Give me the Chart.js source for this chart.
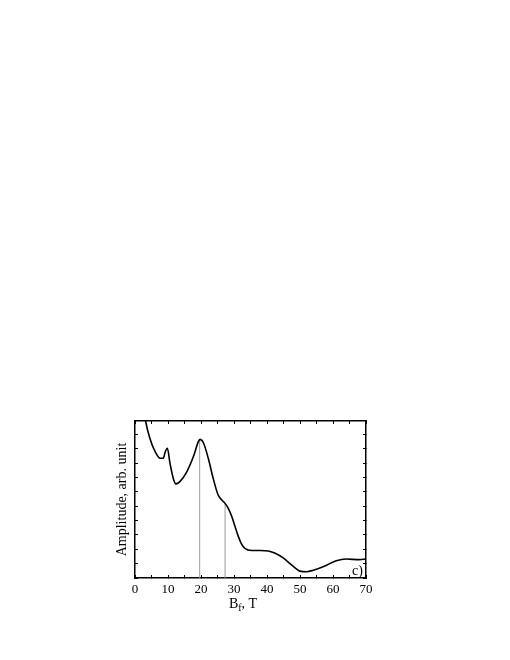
<!DOCTYPE html>
<html>
<head>
<meta charset="utf-8">
<script src="https://cdn.jsdelivr.net/npm/chart.js@4/dist/chart.umd.min.js"></script>
<style>
    html, body { margin: 0; padding: 0; background: #fff; }
    canvas { display: block; }
</style>
</head>
<body>
<canvas id="ampChart" width="510" height="660"></canvas>
<script>
// field values (T) and amplitude
const fieldValues = [2.8, 3.2, 4.5, 6.1, 7.6, 8.6, 9.1, 9.8, 10.6, 11.6, 12.4, 13.6, 15.7, 17.7, 19.2, 19.7,
    20.7, 22.2, 23.7, 25.2, 26.3, 27.3, 28.3, 29.3, 30.3, 31.3, 32.3, 33.3, 35.4, 38, 40.4, 42.5,
    45, 47.5, 50, 52, 54, 57, 61, 64, 68, 70];
const amplitudeValues = [5.75, 5.47, 4.87, 4.4, 4.17, 4.17, 4.37, 4.52, 4.0, 3.47, 3.28, 3.36, 3.7, 4.23, 4.75, 4.83,
    4.72, 4.17, 3.47, 2.89, 2.72, 2.6, 2.42, 2.15, 1.8, 1.45, 1.18, 1.03, 0.96, 0.96, 0.94, 0.86,
    0.69, 0.45, 0.24, 0.22, 0.27, 0.39, 0.6, 0.66, 0.64, 0.66];

// marker lines dropped from the curve to the axis
const markerFields = [19.6, 27.3];
const markerTops = [4.82, 2.6];

const xTickValues = [0, 10, 20, 30, 40, 50, 60, 70];
const xMin = 0, xMax = 70;
const yMin = 0, yMax = 5.47;
const panelLabel = 'c)';

const serif = 'Liberation Serif, Times New Roman, serif';

const datasets = [{
    data: fieldValues.map(function (x, i) { return { x: x, y: amplitudeValues[i] }; }),
    borderColor: '#000',
    borderWidth: 1.6,
    pointRadius: 0,
    cubicInterpolationMode: 'monotone',
    fill: false
}];

for (let i = 0; i < markerFields.length; i++) {
    datasets.push({
        data: [{ x: markerFields[i], y: 0 }, { x: markerFields[i], y: markerTops[i] }],
        borderColor: '#9a9a9a',
        borderWidth: 1,
        pointRadius: 0,
        fill: false
    });
}

// x title with subscript and the panel letter
const extraText = {
    id: 'extraText',
    afterDraw: function (chart) {
        const ctx = chart.ctx;
        const area = chart.chartArea;
        ctx.save();
        ctx.fillStyle = '#000';
        ctx.textBaseline = 'alphabetic';

        const big = '14px ' + serif;
        const small = '10px ' + serif;
        ctx.font = big;
        const wB = ctx.measureText('B').width;
        const wRest = ctx.measureText(', T').width;
        ctx.font = small;
        const wF = ctx.measureText('f').width;
        const total = wB + wF + wRest;
        let x = 243 - total / 2;
        const base = 608;
        ctx.font = big;
        ctx.textAlign = 'left';
        ctx.fillText('B', x, base);
        x += wB;
        ctx.font = small;
        ctx.fillText('f', x, base + 3);
        x += wF;
        ctx.font = big;
        ctx.fillText(', T', x, base);

        ctx.textAlign = 'right';
        ctx.font = '14px ' + serif;
        ctx.fillText(panelLabel, area.right - 3, area.bottom - 3);
        ctx.restore();
    }
};

function edgeAxis(position, stepSize, min, max, size) {
    return {
        type: 'linear',
        position: position,
        min: min,
        max: max,
        border: { color: '#000', width: 1.5 },
        grid: { drawOnChartArea: false, tickLength: -3, color: '#000', tickWidth: 1 },
        ticks: { display: false, stepSize: stepSize, includeBounds: false },
        afterFit: function (scale) {
            if (scale.isHorizontal()) scale.height = size; else scale.width = size;
        }
    };
}

const config = {
    type: 'line',
    data: { datasets: datasets },
    options: {
        responsive: false,
        animation: false,
        devicePixelRatio: 1,
        layout: { padding: { left: 105, right: 144, top: 421, bottom: 42 } },
        plugins: { legend: { display: false }, tooltip: { enabled: false } },
        scales: {
            x: {
                type: 'linear',
                position: 'bottom',
                weight: 1,
                min: xMin,
                max: xMax,
                border: { color: '#000', width: 1.5 },
                grid: { drawOnChartArea: false, tickLength: -3, color: '#000', tickWidth: 1 },
                ticks: {
                    stepSize: 5,
                    padding: 7,
                    maxRotation: 0,
                    autoSkip: false,
                    color: '#000',
                    font: { family: serif, size: 13 },
                    callback: function (value) {
                        return xTickValues.indexOf(value) >= 0 ? String(value) : '';
                    }
                },
                afterFit: function (scale) { scale.height = 40; }
            },
            x2: edgeAxis('top', 5, xMin, xMax, 0),
            y: {
                type: 'linear',
                position: 'left',
                min: yMin,
                max: yMax,
                border: { color: '#000', width: 1.5 },
                grid: { drawOnChartArea: false, tickLength: -3, color: '#000', tickWidth: 1 },
                ticks: { display: false, stepSize: 0.5, includeBounds: false },
                title: {
                    display: true,
                    text: 'Amplitude, arb. unit',
                    color: '#000',
                    font: { family: serif, size: 14 },
                    padding: { top: 9, bottom: 0 }
                },
                afterFit: function (scale) { scale.width = 30; }
            },
            y2: edgeAxis('right', 0.5, yMin, yMax, 0)
        }
    },
    plugins: [extraText]
};

new Chart(document.getElementById('ampChart'), config);
</script>
</body>
</html>
